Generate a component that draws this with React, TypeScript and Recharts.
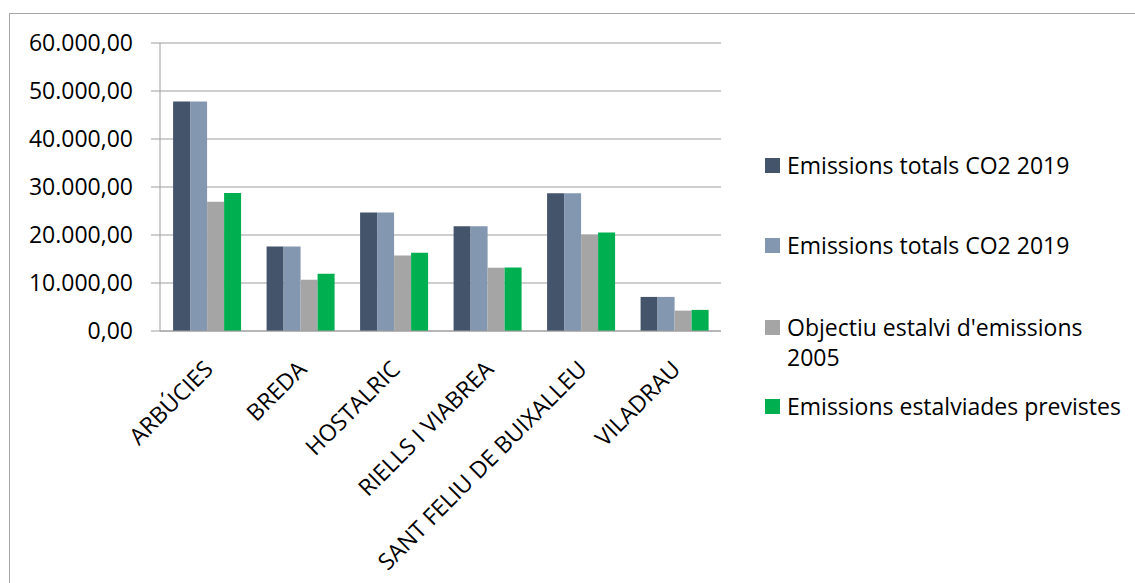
import React from "react";
import { BarChart, Bar, XAxis, YAxis, CartesianGrid, Legend } from "recharts";

const municipalities = ["ARBÚCIES", "BREDA", "HOSTALRIC", "RIELLS I VIABREA", "SANT FELIU DE BUIXALLEU", "VILADRAU"];
const emissions2019A = [47800, 17600, 24700, 21800, 28700, 7100];
const emissions2019B = [47800, 17600, 24700, 21800, 28700, 7100];
const savingTarget2005 = [26950, 10700, 15750, 13200, 20050, 4250];
const plannedSavings = [28750, 11950, 16300, 13250, 20500, 4400];
const yTicks = [0, 10000, 20000, 30000, 40000, 50000, 60000];
const categoryEdges = [0, 1, 2, 3, 4, 5, 6];

const seriesKeys = ["a", "b", "c", "d"];
const seriesNames = [
  "Emissions totals CO2 2019",
  "Emissions totals CO2 2019",
  "Objectiu estalvi d'emissions 2005",
  "Emissions estalviades previstes",
];
const seriesColors = ["#44546A", "#8497B0", "#A5A5A5", "#00B050"];

const data = municipalities.map((name, i) => ({
  name,
  idx: i + 0.5,
  a: emissions2019A[i],
  b: emissions2019B[i],
  c: savingTarget2005[i],
  d: plannedSavings[i],
}));

const FONT = "'Open Sans', 'Noto Sans', sans-serif";
const GRID = "#9e9e9e";

function fmt(v: number): string {
  const s = Math.round(v).toString();
  const withDots = s.replace(/\B(?=(\d{3})+(?!\d))/g, ".");
  return withDots + ",00";
}

function CatTick(props: any) {
  const { x, y, payload } = props;
  return (
    <g transform={`translate(${x + 2},${y + 34})`}>
      <text transform="rotate(-45)" textAnchor="end" dy="0.35em" fontSize={23} fontFamily={FONT} fill="#000">
        {payload.value}
      </text>
    </g>
  );
}

const itemGaps = [0, 50, 52, 19];

function LegendContent() {
  return (
    <div style={{ fontFamily: FONT, fontSize: 23, lineHeight: "30px", color: "#000" }}>
      {seriesKeys.map((k, i) => (
        <div key={k} style={{ display: "flex", alignItems: "flex-start", marginTop: itemGaps[i] }}>
          <div style={{ width: 15, height: 15, background: seriesColors[i], marginTop: 8, marginRight: 7, flex: "0 0 auto" }} />
          <div style={{ width: 340, whiteSpace: "normal" }}>{seriesNames[i]}</div>
        </div>
      ))}
    </div>
  );
}

export default function App() {
  return (
    <div style={{ position: "absolute", left: 0, top: 0, width: 1135, height: 583, background: "#fff", overflow: "hidden" }}>
      <div
        style={{
          position: "absolute",
          left: 9,
          top: 13,
          width: 1200,
          height: 700,
          borderTop: "1px solid #a6a6a6",
          borderLeft: "1px solid #a6a6a6",
        }}
      />
      <div style={{ position: "absolute", left: 0, top: 0 }}>
        <BarChart
          width={1135}
          height={583}
          data={data}
          margin={{ top: 43, right: 414, bottom: 0, left: 0 }}
          barCategoryGap="14%"
          barGap={0}
        >
          <CartesianGrid vertical={false} stroke={GRID} strokeWidth={1} />
          <XAxis
            xAxisId="edges"
            type="number"
            dataKey="idx"
            domain={[0, 6]}
            ticks={categoryEdges}
            height={0}
            axisLine={false}
            tick={false}
            tickLine={{ stroke: GRID }}
            tickSize={9}
          />
          <XAxis
            xAxisId="cat"
            dataKey="name"
            height={252}
            interval={0}
            axisLine={{ stroke: GRID }}
            tickLine={false}
            tickSize={0}
            tickMargin={0}
            tick={<CatTick />}
          />
          <YAxis
            domain={[0, 60000]}
            ticks={yTicks}
            width={160}
            tickFormatter={fmt}
            axisLine={{ stroke: GRID }}
            tickLine={{ stroke: GRID }}
            tickSize={9}
            tickMargin={18}
            tick={{ fontSize: 23, fontFamily: FONT, fill: "#000" }}
          />
          <Legend
            layout="horizontal"
            verticalAlign="middle"
            align="center"
            content={<LegendContent />}
            wrapperStyle={{ left: 765, top: 150, width: 370, height: 260 }}
          />
          <Bar xAxisId="cat" dataKey="a" name={seriesNames[0]} fill={seriesColors[0]} isAnimationActive={false} />
          <Bar xAxisId="cat" dataKey="b" name={seriesNames[1]} fill={seriesColors[1]} isAnimationActive={false} />
          <Bar xAxisId="cat" dataKey="c" name={seriesNames[2]} fill={seriesColors[2]} isAnimationActive={false} />
          <Bar xAxisId="cat" dataKey="d" name={seriesNames[3]} fill={seriesColors[3]} isAnimationActive={false} />
        </BarChart>
      </div>
    </div>
  );
}
